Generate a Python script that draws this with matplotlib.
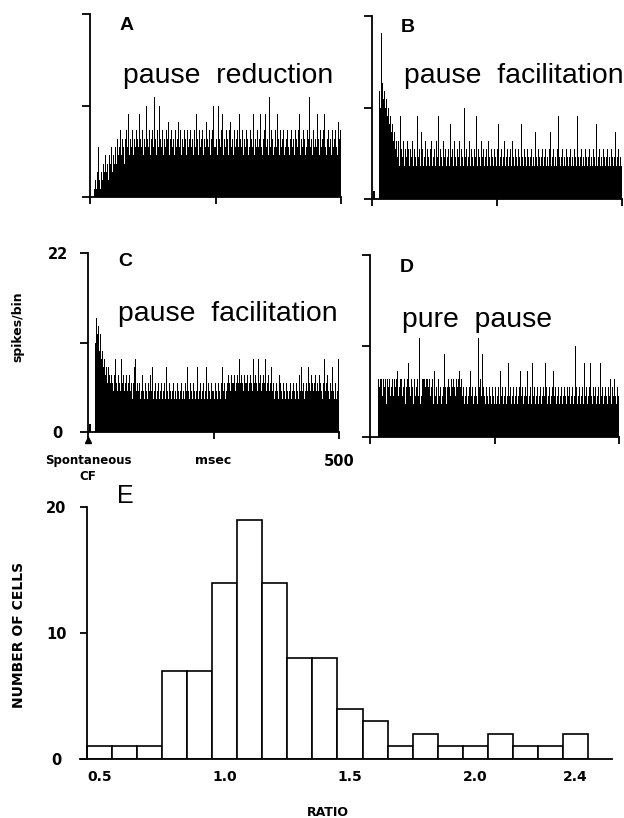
import matplotlib
matplotlib.use("Agg")
import matplotlib.pyplot as plt
import numpy as np
from matplotlib.transforms import ScaledTranslation

# ---------------- data ----------------
bin_ms = 2  # spikes per 2-ms bin, 0..500 ms
psth_A = [0,0,0,0,1,2,1,3,6,2,1,3,2,4,3,5,3,4,2,5,4,6,3,5,4,
          6,4,7,5,6,8,5,7,6,4,7,8,6,10,5,7,6,8,5,7,6,8,7,6,10,
          7,6,8,5,7,6,11,7,6,8,5,7,8,6,12,7,5,8,6,11,7,6,8,5,7,
          6,8,7,9,5,7,8,6,7,5,8,6,7,9,6,8,5,7,6,8,7,5,8,6,7,
          8,6,7,5,8,6,10,7,5,8,6,7,8,5,7,6,9,7,6,8,5,7,8,11,6,
          7,5,11,7,6,8,10,5,7,6,8,7,5,8,9,6,7,5,8,6,7,8,6,10,7,
          6,8,5,7,6,8,7,5,6,8,7,6,10,5,7,6,8,6,7,10,6,5,7,8,10,
          6,7,5,12,6,8,7,5,6,8,6,10,7,5,8,6,7,8,5,6,7,8,6,5,7,
          8,6,7,5,8,7,6,8,10,5,7,6,8,7,5,6,8,7,12,6,7,5,8,6,7,
          6,10,7,5,8,6,7,8,10,6,5,7,8,6,7,5,8,6,7,8,6,5,9,7,8]
psth_B = [0,1,1,0,0,0,0,13,11,20,14,12,13,11,12,10,11,9,10,8,9,7,8,6,7,
          5,7,4,10,6,5,7,4,6,5,7,6,4,6,5,7,4,6,5,4,10,5,6,4,8,
          6,4,5,7,4,6,5,4,6,7,4,5,6,4,7,5,10,4,6,5,4,7,5,6,4,
          5,6,4,9,5,6,4,7,5,4,6,5,7,4,6,5,4,11,5,6,4,5,7,4,6,
          5,4,6,5,10,4,6,5,4,7,5,6,4,5,6,4,7,5,4,6,5,4,6,5,4,
          6,9,4,5,6,4,5,7,4,5,6,4,5,6,4,7,5,4,6,5,4,6,5,4,9,
          5,4,6,5,4,6,5,4,5,6,4,5,4,8,5,4,6,5,4,5,6,4,5,6,4,
          5,4,6,8,4,5,6,4,5,4,6,10,5,4,5,6,4,5,4,6,5,4,5,6,4,
          5,4,6,5,4,10,5,4,5,6,4,5,4,6,5,4,5,6,4,5,4,6,5,4,9,
          4,5,6,4,5,4,6,5,4,5,6,4,5,4,6,5,4,5,8,4,5,6,4,5,4]
psth_C = [0,1,1,0,0,0,0,11,14,12,13,10,12,9,10,8,9,7,8,6,8,7,6,7,6,
          5,7,9,6,5,7,6,5,9,6,7,5,6,7,5,6,7,5,6,4,6,8,9,5,6,
          5,6,4,5,7,5,4,6,5,4,6,5,7,5,8,4,5,6,4,5,6,4,5,6,4,
          5,6,4,8,5,4,6,5,4,5,6,4,5,4,6,5,4,5,6,4,5,4,6,5,8,
          5,4,6,5,4,6,5,4,5,8,4,5,6,4,5,6,4,5,8,4,6,5,4,6,5,
          4,6,5,4,6,5,4,6,8,5,6,4,5,6,7,6,5,7,6,6,7,5,6,7,6,
          9,6,7,6,5,7,6,6,7,5,6,7,6,5,9,6,7,6,5,9,6,7,5,6,7,
          6,9,5,6,7,5,6,8,5,6,4,5,6,5,4,7,6,5,4,6,5,4,6,5,4,
          5,6,4,5,6,5,4,6,5,4,7,5,8,5,6,4,5,6,5,8,6,5,7,6,5,
          6,7,5,6,5,7,6,5,4,6,9,5,6,7,5,4,6,5,8,5,4,6,4,5,9]
psth_D = [0,0,0,0,0,0,0,0,7,6,7,7,5,7,6,7,4,7,6,7,5,6,7,5,7,
          6,7,8,5,6,7,7,5,6,7,4,6,7,9,6,5,7,6,4,7,5,6,7,5,12,
          4,5,7,7,7,6,7,7,6,7,5,6,7,4,8,5,6,4,7,5,6,4,5,6,10,
          6,4,6,7,6,5,7,6,7,6,5,7,6,7,8,6,7,5,6,4,5,6,4,5,6,
          8,5,6,4,5,6,5,4,12,6,7,5,10,6,5,4,6,5,4,6,5,4,6,5,4,
          5,6,4,5,6,4,8,5,6,4,5,6,4,5,9,5,6,4,5,6,4,5,6,4,5,
          6,8,5,6,4,5,6,5,8,4,5,6,4,9,5,6,4,5,6,4,5,6,4,5,6,
          5,9,6,4,5,6,4,5,6,8,5,6,4,5,6,4,5,6,4,5,6,5,4,6,5,
          6,4,5,6,4,5,11,6,4,5,6,4,5,6,4,9,5,6,4,5,6,9,5,4,6,
          5,6,4,5,6,4,9,5,6,4,5,6,5,4,6,5,7,4,6,5,7,5,4,6,5]

panel_letters = ["A", "B", "C", "D"]
panel_titles = ["pause  reduction", "pause  facilitation", "pause  facilitation", "pure  pause"]

ratio_centers = [0.5, 0.6, 0.7, 0.8, 0.9, 1.0, 1.1, 1.2, 1.3, 1.4,
                 1.5, 1.6, 1.7, 1.8, 1.9, 2.0, 2.1, 2.2, 2.3, 2.4]
n_cells = [1, 1, 1, 7, 7, 14, 19, 14, 8, 8, 4, 3, 1, 2, 1, 1, 2, 1, 1, 2]
ratio_ticks = [0.5, 1.0, 1.5, 2.0, 2.4]
ratio_ticklabels = ["0.5", "1.0", "1.5", "2.0", "2.4"]

for arr in (psth_A, psth_B, psth_C, psth_D):
    assert len(arr) == 250, len(arr)

# ---------------- figure ----------------
W, H = 624, 818
fig = plt.figure(figsize=(W / 100, H / 100), dpi=100)
fig.patch.set_facecolor("white")


def rect(l, r, t, b):
    return [l / W, 1 - b / H, (r - l) / W, (b - t) / H]


def fx(x):
    return x / W


def fy(y):
    return 1 - y / H


LBL = dict(family="DejaVu Sans", weight="bold")
TXT = dict(family="Liberation Sans")

boxes = [rect(90, 341, 14, 197), rect(372, 622, 16, 199),
         rect(88, 339, 253, 432), rect(370, 619, 255, 437)]
letter_pos = [(127, 25), (408, 27), (125, 262), (407, 268)]
title_pos = [(123, 83), (404, 83), (118, 321), (402, 327)]
data = [psth_A, psth_B, psth_C, psth_D]

for i, (box, vals) in enumerate(zip(boxes, data)):
    ax = fig.add_axes(box)
    x = np.arange(len(vals)) * bin_ms
    ax.bar(x, vals, width=bin_ms, align="edge", color="black", linewidth=0)
    ax.set_xlim(0, 500)
    ax.set_ylim(0, 22)
    for s in ["top", "right"]:
        ax.spines[s].set_visible(False)
    for s in ["left", "bottom"]:
        ax.spines[s].set_linewidth(1.3)
    ax.set_yticks([0, 11, 22])
    ax.set_xticks([0, 250, 500])
    ax.tick_params(axis="y", direction="out", length=5.8, width=1.3)
    ax.tick_params(axis="x", direction="out", length=5, width=1.3)
    ax.patch.set_alpha(0)
    if i == 2:
        ax.set_yticklabels(["0", "", "22"], fontsize=10.5, **LBL)
        for t in ax.get_yticklabels():
            t.set_ha("center")
        ax.tick_params(axis="y", pad=16)
        ax.set_xticklabels(["Spontaneous\nCF", "msec", "500"], **LBL)
        xl = ax.get_xticklabels()
        xl[0].set_fontsize(8.5)
        xl[0].set_linespacing(1.3)
        xl[1].set_fontsize(9)
        xl[2].set_fontsize(10.5)
        ax.tick_params(axis="x", pad=11)
        off = ScaledTranslation(0, -6 / 72, fig.dpi_scale_trans)
        ax.plot([0], [0], marker="^", ms=5, color="black", clip_on=False,
                transform=ax.transData + off)
    else:
        ax.set_yticklabels([])
        ax.set_xticklabels([])
    lx, ly = letter_pos[i]
    fig.text(fx(lx), fy(ly), panel_letters[i], ha="center", va="center",
             fontsize=14, weight="bold", **TXT)
    tx, ty = title_pos[i]
    fig.text(fx(tx), fy(ty), panel_titles[i], ha="left", va="baseline",
             fontsize=20.4, **TXT)

fig.text(fx(18), fy(327), "spikes/bin", rotation=90, ha="center", va="center",
         fontsize=9, **LBL)

# ---------------- histogram E ----------------
axE = fig.add_axes(rect(80, 612, 507, 759))
axE.bar(ratio_centers, n_cells, width=0.1, facecolor="white", edgecolor="black",
        linewidth=1.2)
axE.set_xlim(0.422, 2.546)
axE.set_ylim(0, 20)
for s in ["top", "right"]:
    axE.spines[s].set_visible(False)
axE.spines["left"].set_position(("data", 0.45))
axE.spines["left"].set_linewidth(1.3)
axE.spines["bottom"].set_linewidth(1.3)
axE.set_yticks([0, 10, 20])
axE.set_yticklabels(["0", "10", "20"], fontsize=10.5, **LBL)
for t in axE.get_yticklabels():
    t.set_ha("center")
axE.tick_params(axis="y", direction="out", length=5, width=1.3, pad=17)
axE.set_xticks(ratio_ticks)
axE.set_xticklabels(ratio_ticklabels, fontsize=10, **LBL)
axE.tick_params(axis="x", length=0, pad=8)
axE.patch.set_alpha(0)

fig.text(fx(125), fy(496), "E", ha="center", va="center", fontsize=18, **TXT)
fig.text(fx(328), fy(812), "RATIO", ha="center", va="center", fontsize=9, **LBL)
fig.text(fx(19), fy(635), "NUMBER OF CELLS", rotation=90, ha="center", va="center",
         fontsize=10, **LBL)

fig.savefig("out.png", dpi=100, facecolor="white")
